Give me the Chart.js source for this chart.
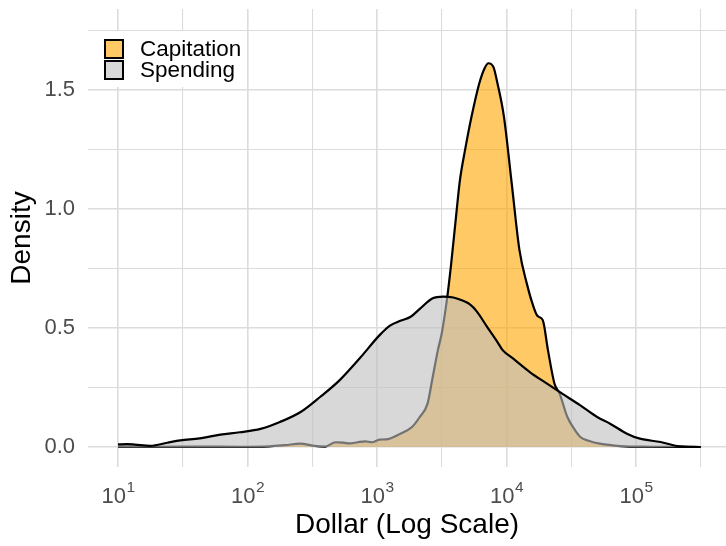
<!DOCTYPE html>
<html>
<head>
<meta charset="utf-8">
<script src="https://cdn.jsdelivr.net/npm/chart.js@4.4.1/dist/chart.umd.min.js"></script>
<style>
  body { margin: 0; background: #fff; }
</style>
</head>
<body>
<canvas id="densityChart" width="726" height="546"></canvas>
<script>
// x values are log10 of the dollar amount
var spendingLog = [1.00, 1.07, 1.13, 1.25, 1.38, 1.48, 1.63, 1.79, 1.94, 2.10, 2.25, 2.41, 2.56, 2.71, 2.87,
  3.02, 3.10, 3.18, 3.26, 3.33, 3.43, 3.51, 3.59, 3.66, 3.72, 3.77, 3.85, 3.93, 3.97, 4.05, 4.18, 4.31,
  4.43, 4.57, 4.70, 4.80, 4.93, 5.03, 5.19, 5.32, 5.50];
var spendingDensity = [0.011, 0.012, 0.010, 0.005, 0.018, 0.028, 0.036, 0.052, 0.062, 0.076, 0.105, 0.147, 0.21, 0.28, 0.375,
  0.47, 0.51, 0.53, 0.547, 0.58, 0.625, 0.632, 0.628, 0.615, 0.598, 0.57, 0.505, 0.441, 0.407, 0.372, 0.315, 0.267,
  0.224, 0.175, 0.126, 0.098, 0.056, 0.035, 0.021, 0.004, 0.0];

var capitationLog = [1.00, 1.32, 1.63, 1.94, 2.17, 2.29, 2.41, 2.50, 2.60, 2.68, 2.74, 2.79, 2.85, 2.91, 2.96,
  3.02, 3.07, 3.18, 3.27, 3.33, 3.39, 3.43, 3.47, 3.50, 3.54, 3.57, 3.61, 3.64, 3.68, 3.73, 3.79, 3.83,
  3.86, 3.90, 3.93, 3.98, 4.04, 4.10, 4.16, 4.20, 4.24, 4.28, 4.32, 4.37, 4.41, 4.47, 4.53, 4.57, 4.64,
  4.72, 4.88, 5.11, 5.50];
var capitationDensity = [0.002, 0.001, 0.002, 0.001, 0.003, 0.008, 0.014, 0.006, 0.002, 0.02, 0.018, 0.015, 0.02, 0.024, 0.02,
  0.031, 0.032, 0.056, 0.084, 0.126, 0.182, 0.294, 0.407, 0.478, 0.62, 0.757, 0.967, 1.12, 1.248, 1.388, 1.528, 1.59,
  1.612, 1.595, 1.528, 1.388, 1.108, 0.827, 0.68, 0.603, 0.55, 0.533, 0.407, 0.267, 0.224, 0.126, 0.07, 0.042, 0.025,
  0.014, 0.004, 0.001, 0.0];

var seriesNames = ['Capitation', 'Spending'];
var xTickExponents = [1, 2, 3, 4, 5];
var xGridValues = [1, 1.5, 2, 2.5, 3, 3.5, 4, 4.5, 5, 5.5];
var yGridValues = [0, 0.25, 0.5, 0.75, 1, 1.25, 1.5, 1.75];

var FONT = '"Liberation Sans", Arial, sans-serif';

function toPoints(xs, ys) {
  return xs.map(function(x, i) { return { x: x, y: ys[i] }; });
}

// legend drawn like the ggplot one, inside the panel
var legendPlugin = {
  id: 'ggLegend',
  afterDraw: function(chart) {
    var c = chart.ctx;
    var keyFills = ['rgb(255,201,102)', 'rgb(216,216,216)'];
    c.save();
    c.fillStyle = '#fff';
    c.fillRect(95, 31, 151, 56);
    c.font = '22.5px ' + FONT;
    c.textBaseline = 'alphabetic';
    c.textAlign = 'left';
    seriesNames.forEach(function(name, i) {
      var top = 40 + i * 21;
      c.fillStyle = keyFills[i];
      c.fillRect(105, top, 18, 18);
      c.lineWidth = 2;
      c.strokeStyle = '#000';
      c.strokeRect(105, top, 18, 18);
      c.fillStyle = '#000';
      c.fillText(name, 140, top + 16);
    });
    c.restore();
  }
};

// x tick labels as 10 with a raised exponent
var powerLabels = {
  id: 'powerLabels',
  afterDraw: function(chart) {
    var c = chart.ctx;
    var xs = chart.scales.x;
    c.save();
    c.fillStyle = '#4D4D4D';
    c.textBaseline = 'alphabetic';
    c.textAlign = 'left';
    xTickExponents.forEach(function(e) {
      var px = xs.getPixelForValue(e);
      c.font = '22px ' + FONT;
      var wBase = c.measureText('10').width;
      c.font = '15.5px ' + FONT;
      var wExp = c.measureText(String(e)).width;
      var start = px - (wBase + wExp) / 2;
      c.font = '22px ' + FONT;
      c.fillText('10', start, 503);
      c.font = '15.5px ' + FONT;
      c.fillText(String(e), start + wBase + 0.5, 492);
    });
    c.restore();
  }
};

var ctx = document.getElementById('densityChart').getContext('2d');
var chart = new Chart(ctx, {
  type: 'line',
  data: {
    datasets: [{
      label: 'Spending',
      data: toPoints(spendingLog, spendingDensity),
      backgroundColor: 'rgba(190,190,190,0.6)',
      borderColor: '#000',
      borderWidth: 2.2,
      fill: 'origin',
      cubicInterpolationMode: 'monotone',
      pointRadius: 0
    }, {
      label: 'Capitation',
      data: toPoints(capitationLog, capitationDensity),
      backgroundColor: 'rgba(255,165,0,0.6)',
      borderColor: '#000',
      borderWidth: 2.2,
      fill: 'origin',
      cubicInterpolationMode: 'monotone',
      pointRadius: 0
    }]
  },
  options: {
    responsive: false,
    animation: false,
    devicePixelRatio: 1,
    layout: { padding: { left: 0, right: 0, top: 9, bottom: 0 } },
    plugins: {
      legend: { display: false },
      tooltip: { enabled: false }
    },
    scales: {
      x: {
        type: 'linear',
        min: 0.768,
        max: 5.695,
        afterBuildTicks: function(scale) {
          scale.ticks = xGridValues.map(function(v) { return { value: v }; });
        },
        afterFit: function(scale) {
          scale.height = 79;
          scale.paddingLeft = 0;
          scale.paddingRight = 0;
        },
        ticks: { display: false },
        border: { display: false },
        grid: {
          drawTicks: false,
          color: '#DCDCDC',
          lineWidth: function(c) {
            return c.tick && Number.isInteger(c.tick.value) ? 1.6 : 1.1;
          }
        },
        title: {
          display: true,
          text: 'Dollar (Log Scale)',
          color: '#000',
          font: { family: FONT, size: 28 },
          padding: { top: 0, bottom: 4 }
        }
      },
      y: {
        min: -0.084,
        max: 1.84,
        afterBuildTicks: function(scale) {
          scale.ticks = yGridValues.map(function(v) { return { value: v }; });
        },
        afterFit: function(scale) {
          scale.width = 88;
          scale.paddingTop = 0;
          scale.paddingBottom = 0;
        },
        ticks: {
          padding: 13,
          color: '#4D4D4D',
          font: { family: FONT, size: 22 },
          callback: function(v) {
            return (v * 2) % 1 === 0 ? v.toFixed(1) : '';
          }
        },
        border: { display: false },
        grid: {
          drawTicks: false,
          color: '#DCDCDC',
          lineWidth: function(c) {
            return c.tick && (c.tick.value * 2) % 1 === 0 ? 1.6 : 1.1;
          }
        },
        title: {
          display: true,
          text: 'Density',
          color: '#000',
          font: { family: FONT, size: 28 },
          padding: { top: 5, bottom: 0 }
        }
      }
    }
  },
  plugins: [legendPlugin, powerLabels]
});
</script>
</body>
</html>
